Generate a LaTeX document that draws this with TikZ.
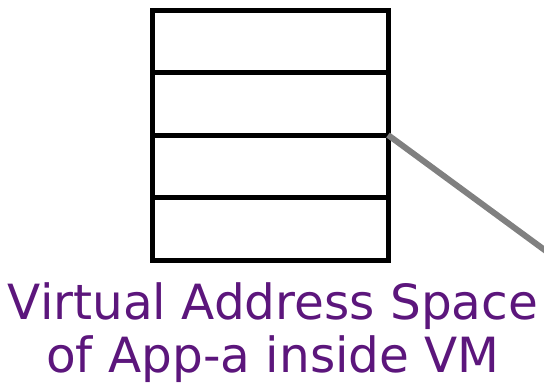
\documentclass[tikz,border=0pt]{standalone}
\usepackage{fontspec}
\setmainfont{DejaVu Sans}
\usetikzlibrary{positioning}
\definecolor{vmpurple}{RGB}{92,22,124}
\definecolor{linkgray}{RGB}{128,128,128}

\tikzset{
  pagerow/.style={draw=black, line width=5pt, minimum width=236pt, minimum height=62.5pt},
  maplink/.style={draw=linkgray, line width=6pt},
  caption/.style={text=vmpurple, align=center, font=\fontsize{48.5}{53}\selectfont}
}

\begin{document}
\begin{tikzpicture}[x=1pt, y=-1pt, every node/.style={inner sep=0pt, outer sep=0pt}]
  \useasboundingbox (0,0) rectangle (544,384);
  % four rows of the address space
  \foreach \i in {0,...,3}{
    \node[pagerow] (row\i) at (270,{41.25+\i*62.5}) {};
  }
  \coordinate (linkend) at (546,251);
  \draw[maplink] (row1.south east) -- (linkend);
  \node[caption, below=23pt of row3, xshift=3pt] (title) {Virtual Address Space\\of App-a inside VM};
\end{tikzpicture}
\end{document}
